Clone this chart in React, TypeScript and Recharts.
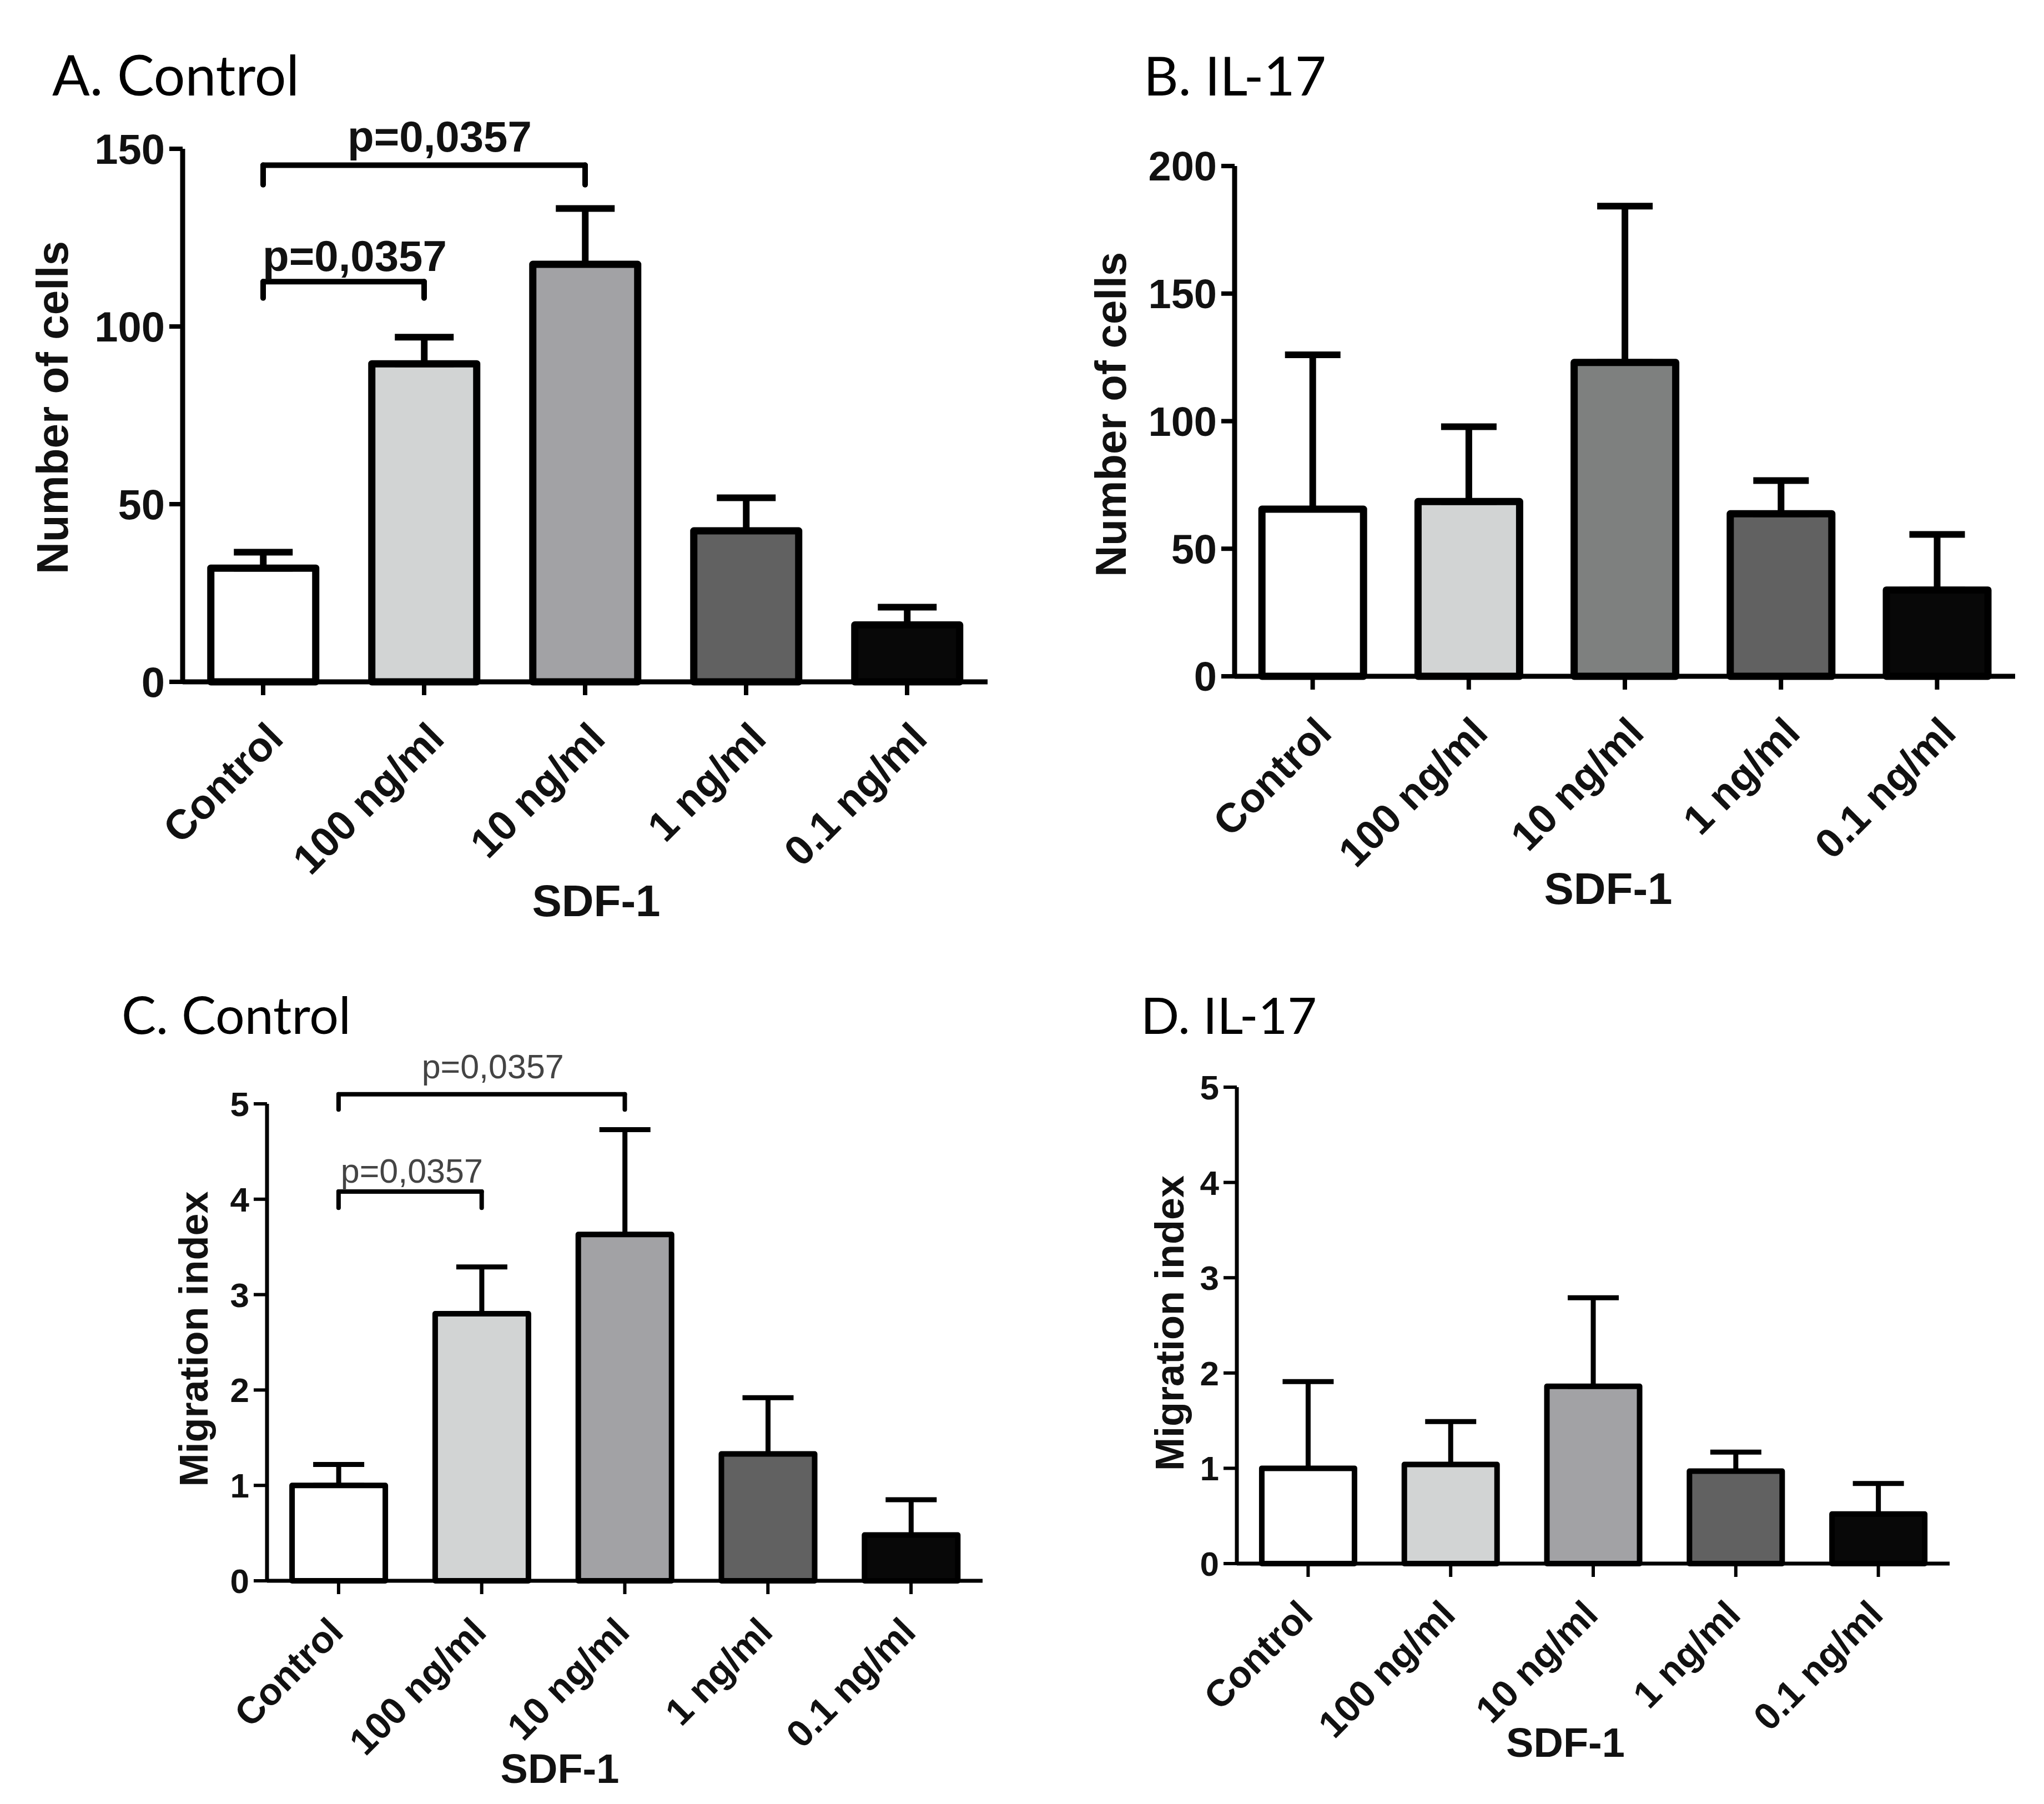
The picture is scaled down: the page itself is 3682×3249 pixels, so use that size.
import React from 'react';
import { BarChart, Bar, XAxis, YAxis, Cell, ErrorBar, ReferenceLine } from 'recharts';

// ---------- data ----------
const categories = ['Control', '100 ng/ml', '10 ng/ml', '1 ng/ml', '0.1 ng/ml'];

const cellsControlMean = [32, 89.5, 117.5, 42.5, 16];
const cellsControlSem = [4.5, 7.5, 15.7, 9.3, 5];

const cellsIL17Mean = [65.5, 68.5, 123, 63.7, 33.8];
const cellsIL17Sem = [60.5, 29.3, 61.3, 13, 21.8];

const migControlMean = [1.0, 2.8, 3.63, 1.33, 0.48];
const migControlSem = [0.22, 0.49, 1.1, 0.59, 0.37];

const migIL17Mean = [1.0, 1.04, 1.86, 0.97, 0.52];
const migIL17Sem = [0.91, 0.45, 0.93, 0.2, 0.32];

const ticksCellsA = [0, 50, 100, 150];
const ticksCellsB = [0, 50, 100, 150, 200];
const ticksMig = [0, 1, 2, 3, 4, 5];

const fillsControl = ['#ffffff', '#d2d4d4', '#a2a2a5', '#616161', '#080808'];
const fillsIL17 = ['#ffffff', '#d2d4d4', '#7e807f', '#616161', '#080808'];

const pText = 'p=0,0357';
const bracketsA = [
  { from: 'Control', to: '10 ng/ml', y: 145.4, drop: 5.5 },
  { from: 'Control', to: '100 ng/ml', y: 112.6, drop: 4.6 },
];
const bracketsC = [
  { from: 'Control', to: '10 ng/ml', y: 5.1, drop: 0.16 },
  { from: 'Control', to: '100 ng/ml', y: 4.08, drop: 0.17 },
];

const titles = ['A. Control', 'B. IL-17', 'C. Control', 'D. IL-17'];
const yLabelCells = 'Number of cells';
const yLabelMig = 'Migration index';
const xLabel = 'SDF-1';

const makeRows = (means: number[], sems: number[]) =>
  categories.map((c, i) => ({ cat: c, mean: means[i], errRange: [0, sems[i]] }));

// ---------- styling ----------
const ARIAL = '"Liberation Sans", Arial, sans-serif';
const TITLE_FONT = 'Lato, "Open Sans", sans-serif';

function RotTick(props: any) {
  const { x, y, payload, fs, ox, oy } = props;
  return (
    <g transform={`translate(${x},${y})`}>
      <text
        transform={`translate(${ox},${oy}) rotate(-45)`}
        textAnchor="end"
        fontSize={fs}
        fontWeight={700}
        fontFamily={ARIAL}
        fill="#111"
      >
        {payload.value}
      </text>
    </g>
  );
}

function YLabel(props: any) {
  const { viewBox, txt, off2, dy2, fs } = props;
  if (!viewBox) return null;
  const x = viewBox.x + viewBox.width - off2;
  const y = viewBox.y + viewBox.height / 2 + dy2;
  return (
    <text
      x={x}
      y={y}
      transform={`rotate(-90, ${x}, ${y})`}
      textAnchor="middle"
      dominantBaseline="central"
      fontSize={fs}
      fontWeight={700}
      fontFamily={ARIAL}
      fill="#111"
    >
      {txt}
    </text>
  );
}

function XLabel(props: any) {
  const { viewBox, txt, dx2, base, fs } = props;
  if (!viewBox) return null;
  const x = viewBox.x + viewBox.width / 2 + dx2;
  const y = viewBox.y + base;
  return (
    <text x={x} y={y} textAnchor="middle" fontSize={fs} fontWeight={700} fontFamily={ARIAL} fill="#111">
      {txt}
    </text>
  );
}

function BracketLabel(props: any) {
  const { viewBox, txt, dx2, gap, fs, bold, color } = props;
  if (!viewBox) return null;
  const x = viewBox.x + viewBox.width / 2 + dx2;
  const y = viewBox.y - gap;
  return (
    <text x={x} y={y} textAnchor="middle" fontSize={fs} fontWeight={bold ? 700 : 400} fontFamily={ARIAL} fill={color}>
      {txt}
    </text>
  );
}

type PanelCfg = {
  cx: number; cy: number; cw: number; ch: number;
  pl: number; pt: number; pr: number; pb: number;
  yW: number; xH: number;
  rows: any[]; fills: string[]; domain: [number, number]; ticks: number[];
  yLabel: string; yOff: number; yDy: number; xDx: number; xBase: number;
  tickFs: number; catFs: number; yFs: number; xFs: number;
  catOx: number; catOy: number;
  barStroke: number; axisStroke: number; errStroke: number; capHalf: number;
  brackets?: { from: string; to: string; y: number; drop: number }[];
  bracketStyle?: { fs: number; bold: boolean; color: string; stroke: number; labels: { dx: number; gap: number }[] };
};

function Panel({ c }: { c: PanelCfg }) {
  const margin = {
    left: c.pl - c.cx - c.yW,
    top: c.pt - c.cy,
    right: c.cx + c.cw - c.pr,
    bottom: c.cy + c.ch - c.pb - c.xH,
  };
  return (
    <div style={{ position: 'absolute', left: c.cx, top: c.cy, width: c.cw, height: c.ch }}>
      <BarChart width={c.cw} height={c.ch} data={c.rows} margin={margin} barCategoryGap="17.5%">
        <XAxis
          dataKey="cat"
          type="category"
          interval={0}
          height={c.xH}
          tickSize={24}
          tickMargin={0}
          axisLine={{ stroke: '#000', strokeWidth: c.axisStroke }}
          tickLine={{ stroke: '#000', strokeWidth: c.axisStroke - 1 }}
          tick={<RotTick fs={c.catFs} ox={c.catOx} oy={c.catOy} />}
          label={<XLabel txt={xLabel} dx2={c.xDx} base={c.xBase} fs={c.xFs} />}
        />
        <YAxis
          type="number"
          domain={c.domain}
          ticks={c.ticks}
          interval={0}
          width={c.yW}
          tickSize={24}
          tickMargin={8}
          axisLine={{ stroke: '#000', strokeWidth: c.axisStroke }}
          tickLine={{ stroke: '#000', strokeWidth: c.axisStroke - 1 }}
          tick={{ fontSize: c.tickFs, fontWeight: 700, fill: '#111', fontFamily: ARIAL }}
          label={<YLabel txt={c.yLabel} off2={c.yOff} dy2={c.yDy} fs={c.yFs} />}
        />
        <Bar dataKey="mean" isAnimationActive={false} stroke="#000" strokeWidth={c.barStroke} strokeLinejoin="round">
          {c.rows.map((r, i) => (
            <Cell key={r.cat} fill={c.fills[i]} />
          ))}
          <ErrorBar
            dataKey="errRange"
            direction="y"
            width={c.capHalf}
            stroke="#000"
            strokeWidth={c.errStroke}
            isAnimationActive={false}
          />
        </Bar>
        {(c.brackets || []).map((b, i) => {
          const s = c.bracketStyle!;
          return (
            <ReferenceLine
              key={'h' + i}
              segment={[{ x: b.from, y: b.y }, { x: b.to, y: b.y }]}
              stroke="#000"
              strokeWidth={s.stroke}
              strokeLinecap="round"
              ifOverflow="visible"
              label={
                <BracketLabel
                  txt={pText}
                  dx2={s.labels[i].dx}
                  gap={s.labels[i].gap}
                  fs={s.fs}
                  bold={s.bold}
                  color={s.color}
                />
              }
            />
          );
        })}
        {(c.brackets || []).map((b, i) => (
          <ReferenceLine
            key={'l' + i}
            segment={[{ x: b.from, y: b.y }, { x: b.from, y: b.y - b.drop }]}
            stroke="#000"
            strokeWidth={c.bracketStyle!.stroke}
            strokeLinecap="round"
            ifOverflow="visible"
          />
        ))}
        {(c.brackets || []).map((b, i) => (
          <ReferenceLine
            key={'r' + i}
            segment={[{ x: b.to, y: b.y }, { x: b.to, y: b.y - b.drop }]}
            stroke="#000"
            strokeWidth={c.bracketStyle!.stroke}
            strokeLinecap="round"
            ifOverflow="visible"
          />
        ))}
      </BarChart>
    </div>
  );
}

const panelA: PanelCfg = {
  cx: 0, cy: 0, cw: 1841, ch: 1700,
  pl: 329, pt: 268, pr: 1779, pb: 1228,
  yW: 220, xH: 440,
  rows: makeRows(cellsControlMean, cellsControlSem), fills: fillsControl,
  domain: [0, 150], ticks: ticksCellsA,
  yLabel: yLabelCells, yOff: 235, yDy: -14, xDx: 20, xBase: 422,
  tickFs: 76, catFs: 75, yFs: 80, xFs: 80, catOx: 40, catOy: 82,
  barStroke: 13, axisStroke: 9, errStroke: 12, capHalf: 53,
  brackets: bracketsA,
  bracketStyle: { fs: 78, bold: true, color: '#111', stroke: 10, labels: [{ dx: 28, gap: 24 }, { dx: 20, gap: 19 }] },
};

const panelB: PanelCfg = {
  cx: 1841, cy: 0, cw: 1841, ch: 1700,
  pl: 2224, pt: 299, pr: 3630, pb: 1218,
  yW: 220, xH: 440,
  rows: makeRows(cellsIL17Mean, cellsIL17Sem), fills: fillsIL17,
  domain: [0, 200], ticks: ticksCellsB,
  yLabel: yLabelCells, yOff: 223, yDy: -12, xDx: -30, xBase: 410,
  tickFs: 74, catFs: 74, yFs: 78, xFs: 80, catOx: 38, catOy: 82,
  barStroke: 13, axisStroke: 9, errStroke: 12, capHalf: 50,
};

const panelC: PanelCfg = {
  cx: 0, cy: 1700, cw: 1841, ch: 1549,
  pl: 481, pt: 1988, pr: 1770, pb: 2847,
  yW: 220, xH: 380,
  rows: makeRows(migControlMean, migControlSem), fills: fillsControl,
  domain: [0, 5], ticks: ticksMig,
  yLabel: yLabelMig, yOff: 132, yDy: -6, xDx: -117, xBase: 364,
  tickFs: 62, catFs: 68, yFs: 72, xFs: 74, catOx: 12, catOy: 72,
  barStroke: 10, axisStroke: 7, errStroke: 9, capHalf: 46,
  brackets: bracketsC,
  bracketStyle: { fs: 61, bold: false, color: '#444', stroke: 8, labels: [{ dx: 20, gap: 29 }, { dx: 3, gap: 16 }] },
};

const panelD: PanelCfg = {
  cx: 1841, cy: 1700, cw: 1841, ch: 1549,
  pl: 2228, pt: 1958, pr: 3512, pb: 2816,
  yW: 220, xH: 380,
  rows: makeRows(migIL17Mean, migIL17Sem), fills: fillsControl,
  domain: [0, 5], ticks: ticksMig,
  yLabel: yLabelMig, yOff: 121, yDy: -4, xDx: -50, xBase: 348,
  tickFs: 62, catFs: 68, yFs: 72, xFs: 74, catOx: 12, catOy: 72,
  barStroke: 10, axisStroke: 7, errStroke: 9, capHalf: 46,
};

const titlePos = [
  { x: 94, y: 172, fs: 100 },
  { x: 2060, y: 172, fs: 97 },
  { x: 219, y: 1862, fs: 93 },
  { x: 2055, y: 1862, fs: 91 },
];

export default function App() {
  return (
    <div style={{ position: 'absolute', left: 0, top: 0, width: 3682, height: 3249, background: '#fff', overflow: 'hidden' }}>
      <Panel c={panelA} />
      <Panel c={panelB} />
      <Panel c={panelC} />
      <Panel c={panelD} />
      <svg width={3682} height={3249} style={{ position: 'absolute', left: 0, top: 0, pointerEvents: 'none' }}>
        {titles.map((t, i) => (
          <text key={t + i} x={titlePos[i].x} y={titlePos[i].y} fontSize={titlePos[i].fs} fontFamily={TITLE_FONT} fill="#000">
            {t}
          </text>
        ))}
      </svg>
    </div>
  );
}
